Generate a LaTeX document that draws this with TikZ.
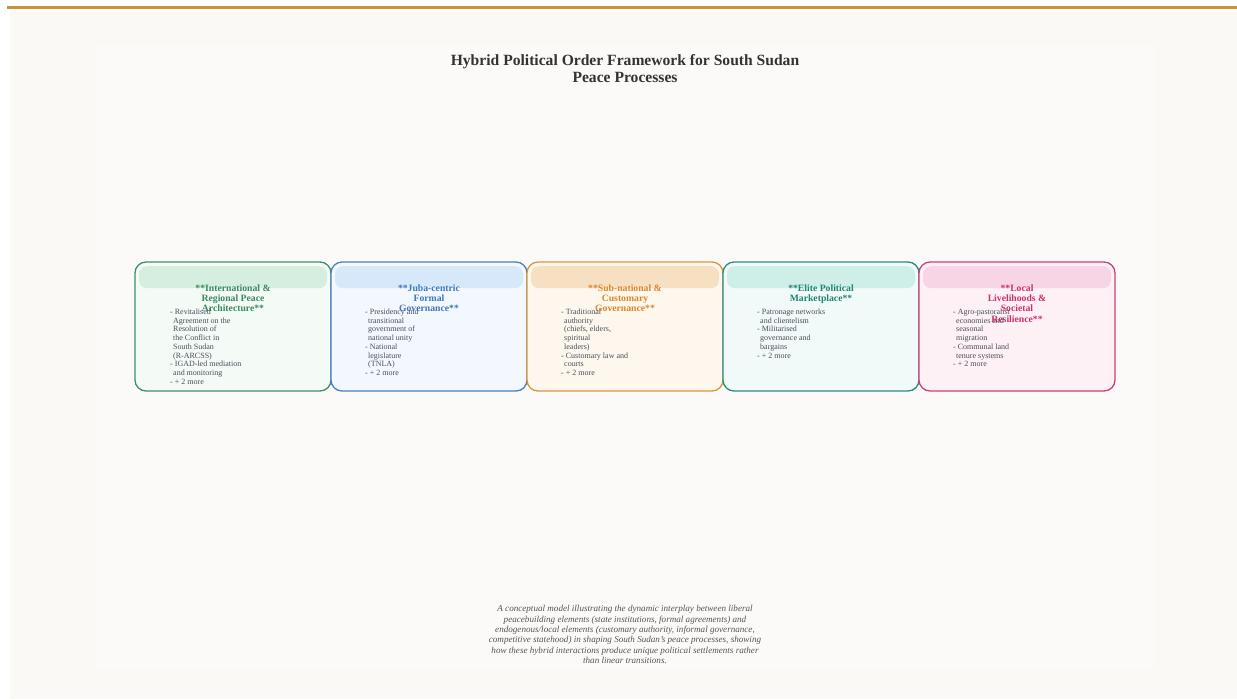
\documentclass[tikz,border=0pt]{standalone}
\usepackage{fontspec}
\setmainfont{Liberation Serif}
\usepackage{xcolor}
\usetikzlibrary{positioning}

\definecolor{pagebg}{HTML}{FAF9F6}
\definecolor{panelbg}{HTML}{FBFAF8}
\definecolor{goldbar}{HTML}{C8923A}
\definecolor{titlecol}{HTML}{333333}
\definecolor{listcol}{HTML}{4A4F5C}
\definecolor{capcol}{HTML}{555555}
% border / fill / band / heading per column
\definecolor{intlB}{HTML}{3F8F6B}\definecolor{intlF}{HTML}{F4FAF6}\definecolor{intlH}{HTML}{D5EEDF}\definecolor{intlT}{HTML}{3A8A5E}
\definecolor{jubaB}{HTML}{4A80C0}\definecolor{jubaF}{HTML}{F3F8FE}\definecolor{jubaH}{HTML}{D7E8FB}\definecolor{jubaT}{HTML}{3D78BE}
\definecolor{subnB}{HTML}{D8963C}\definecolor{subnF}{HTML}{FEF7EE}\definecolor{subnH}{HTML}{F7DFC2}\definecolor{subnT}{HTML}{D98828}
\definecolor{eliteB}{HTML}{2A8C7E}\definecolor{eliteF}{HTML}{F1FAF8}\definecolor{eliteH}{HTML}{CEEEE8}\definecolor{eliteT}{HTML}{1F8575}
\definecolor{localB}{HTML}{CF3F7A}\definecolor{localF}{HTML}{FDF1F6}\definecolor{localH}{HTML}{F8D5E5}\definecolor{localT}{HTML}{D02F6C}

\begin{document}
\begin{tikzpicture}[
  x=1pt, y=1pt,
  node distance=0pt,
  box/.style={draw=#1B, fill=#1F, line width=1.3pt, rounded corners=11pt, minimum width=196pt, minimum height=129pt, inner sep=0pt, outer sep=0pt},
  band/.style={fill=#1H, rounded corners=8pt, minimum width=188pt, minimum height=22pt, inner sep=0pt},
  head/.style={text=#1T, font=\bfseries\fontsize{9.7}{10.2}\selectfont, align=center, inner sep=0pt},
  items/.style={text=listcol, font=\fontsize{8}{8.75}\selectfont, align=left, inner sep=0pt}
]
  % page
  \useasboundingbox (0,0) rectangle (1237,-699);
  \fill[white] (0,0) rectangle (1237,-699);
  \fill[pagebg] (10,-10) rectangle (1237,-699);
  \fill[goldbar] (7,-6) rectangle (1237,-9);
  \fill[panelbg] (95,-45) rectangle (1155,-668);

  \node[font=\bfseries\fontsize{15.6}{17}\selectfont, text=titlecol, align=center] (title) at (625,-68.5)
    {Hybrid Political Order Framework for South Sudan\\Peace Processes};

  % five columns
  \node[box=intl] (intl) at (233,-326.5) {};
  \node[box=juba, right=of intl] (juba) {};
  \node[box=subn, right=of juba] (subn) {};
  \node[box=elite, right=of subn] (elite) {};
  \node[box=local, right=of elite] (local) {};

  \foreach \c in {intl,juba,subn,elite,local}
    \node[band=\c, below=4pt of \c.north] (\c-band) {};

  \node[head=intl, below=22.5pt of intl.north] (intl-head) {**International \&\\Regional Peace\\Architecture**};
  \node[head=juba, below=22.5pt of juba.north] (juba-head) {**Juba-centric\\Formal\\Governance**};
  \node[head=subn, below=22.5pt of subn.north] (subn-head) {**Sub-national \&\\Customary\\Governance**};
  \node[head=elite, below=22.5pt of elite.north] (elite-head) {**Elite Political\\Marketplace**};
  \node[head=local, below=22.5pt of local.north] (local-head) {**Local\\Livelihoods \&\\Societal\\Resilience**};

  \node[items, below right=46.5pt and 35pt of intl.north west] (intl-list)
    {- Revitalised\\\hspace{3pt}Agreement on the\\\hspace{3pt}Resolution of\\\hspace{3pt}the Conflict in\\\hspace{3pt}South Sudan\\\hspace{3pt}(R-ARCSS)\\- IGAD-led mediation\\\hspace{3pt}and monitoring\\- + 2 more};
  \node[items, below right=46.5pt and 34pt of juba.north west] (juba-list)
    {- Presidency and\\\hspace{3pt}transitional\\\hspace{3pt}government of\\\hspace{3pt}national unity\\- National\\\hspace{3pt}legislature\\\hspace{3pt}(TNLA)\\- + 2 more};
  \node[items, below right=46.5pt and 34pt of subn.north west] (subn-list)
    {- Traditional\\\hspace{3pt}authority\\\hspace{3pt}(chiefs, elders,\\\hspace{3pt}spiritual\\\hspace{3pt}leaders)\\- Customary law and\\\hspace{3pt}courts\\- + 2 more};
  \node[items, below right=46.5pt and 34pt of elite.north west] (elite-list)
    {- Patronage networks\\\hspace{3pt}and clientelism\\- Militarised\\\hspace{3pt}governance and\\\hspace{3pt}bargains\\- + 2 more};
  \node[items, below right=46.5pt and 34pt of local.north west] (local-list)
    {- Agro-pastoralist\\\hspace{3pt}economies and\\\hspace{3pt}seasonal\\\hspace{3pt}migration\\- Communal land\\\hspace{3pt}tenure systems\\- + 2 more};

  \node[font=\itshape\fontsize{9.1}{10.3}\selectfont, text=capcol, align=center] (caption) at (625,-634.5)
    {A conceptual model illustrating the dynamic interplay between liberal\\peacebuilding elements (state institutions, formal agreements) and\\endogenous/local elements (customary authority, informal governance,\\competitive statehood) in shaping South Sudan's peace processes, showing\\how these hybrid interactions produce unique political settlements rather\\than linear transitions.};
\end{tikzpicture}
\end{document}
